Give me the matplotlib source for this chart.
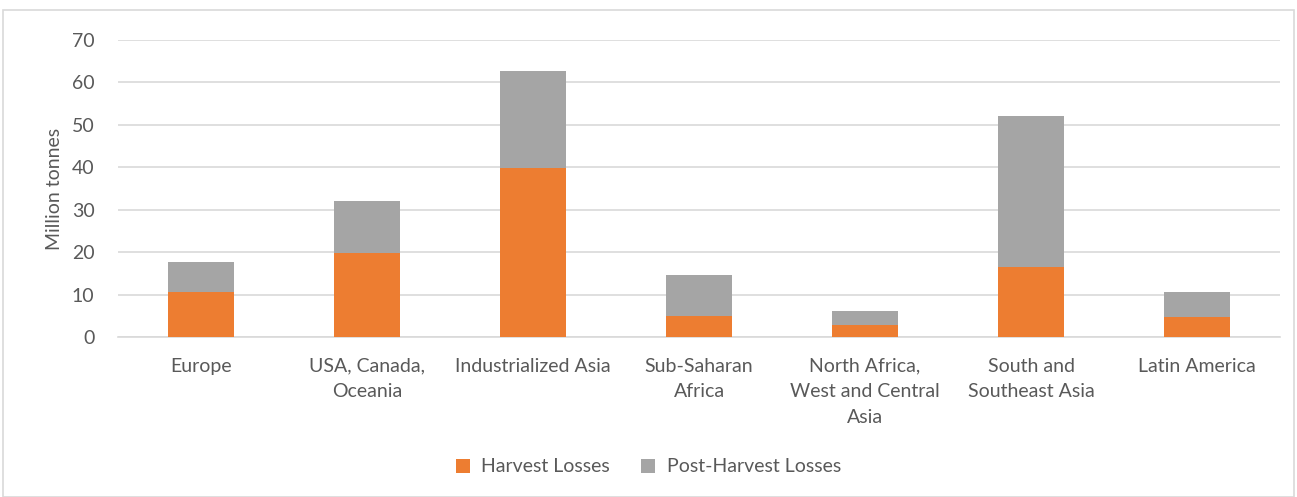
import numpy as np
import matplotlib.pyplot as plt
from matplotlib.patches import Rectangle

regions = ["Europe", "USA, Canada,\nOceania", "Industrialized Asia", "Sub-Saharan\nAfrica",
           "North Africa,\nWest and Central\nAsia", "South and\nSoutheast Asia", "Latin America"]
harvest = [10.7, 19.8, 39.8, 5.0, 2.8, 16.5, 4.7]
post_harvest = [6.9, 12.3, 22.8, 9.7, 3.4, 35.5, 6.0]

ORANGE = "#ED7D31"
GRAY = "#A5A5A5"
TXT = "#595959"

plt.rcParams["font.family"] = ["Lato", "DejaVu Sans"]

W, H = 1297, 497
fig = plt.figure(figsize=(W / 100, H / 100), dpi=100)
# outer chart frame
fig.patches.append(Rectangle((3 / W, 0), 1 - 6 / W, 1 - 10 / H, transform=fig.transFigure,
                             fill=False, edgecolor="#D9D9D9", linewidth=1.2))

ax = fig.add_axes([118 / W, 1 - 337 / H, (1280 - 118) / W, (337 - 40) / H])
x = np.arange(len(regions))
width = 0.40
ax.bar(x, harvest, width, color=ORANGE, label="Harvest Losses", zorder=3)
ax.bar(x, post_harvest, width, bottom=harvest, color=GRAY, label="Post-Harvest Losses", zorder=3)

ax.set_xlim(-0.5, len(regions) - 0.5)
ax.set_ylim(0, 70)
ax.set_yticks(range(0, 71, 10))
ax.yaxis.grid(True, color="#D9D9D9", linewidth=1.2, zorder=0)
ax.set_axisbelow(True)
for s in ["top", "right", "left"]:
    ax.spines[s].set_visible(False)
ax.spines["bottom"].set_color("#D9D9D9")
ax.spines["bottom"].set_linewidth(1.2)
ax.tick_params(axis="both", length=0, colors=TXT, labelsize=14)
ax.tick_params(axis="y", pad=17)
ax.tick_params(axis="x", pad=15)
ax.set_xticks(x)
ax.set_xticklabels(regions, linespacing=1.6)
ax.set_ylabel("Million tonnes", color=TXT, fontsize=14, labelpad=6)

fig.legend(loc="center", bbox_to_anchor=(0.5, 1 - 467 / H), ncol=2, frameon=False,
           fontsize=14, labelcolor=TXT, handlelength=0.7, handleheight=0.7,
           columnspacing=1.6, handletextpad=0.6)

fig.savefig("out.png", dpi=100, facecolor="white")
